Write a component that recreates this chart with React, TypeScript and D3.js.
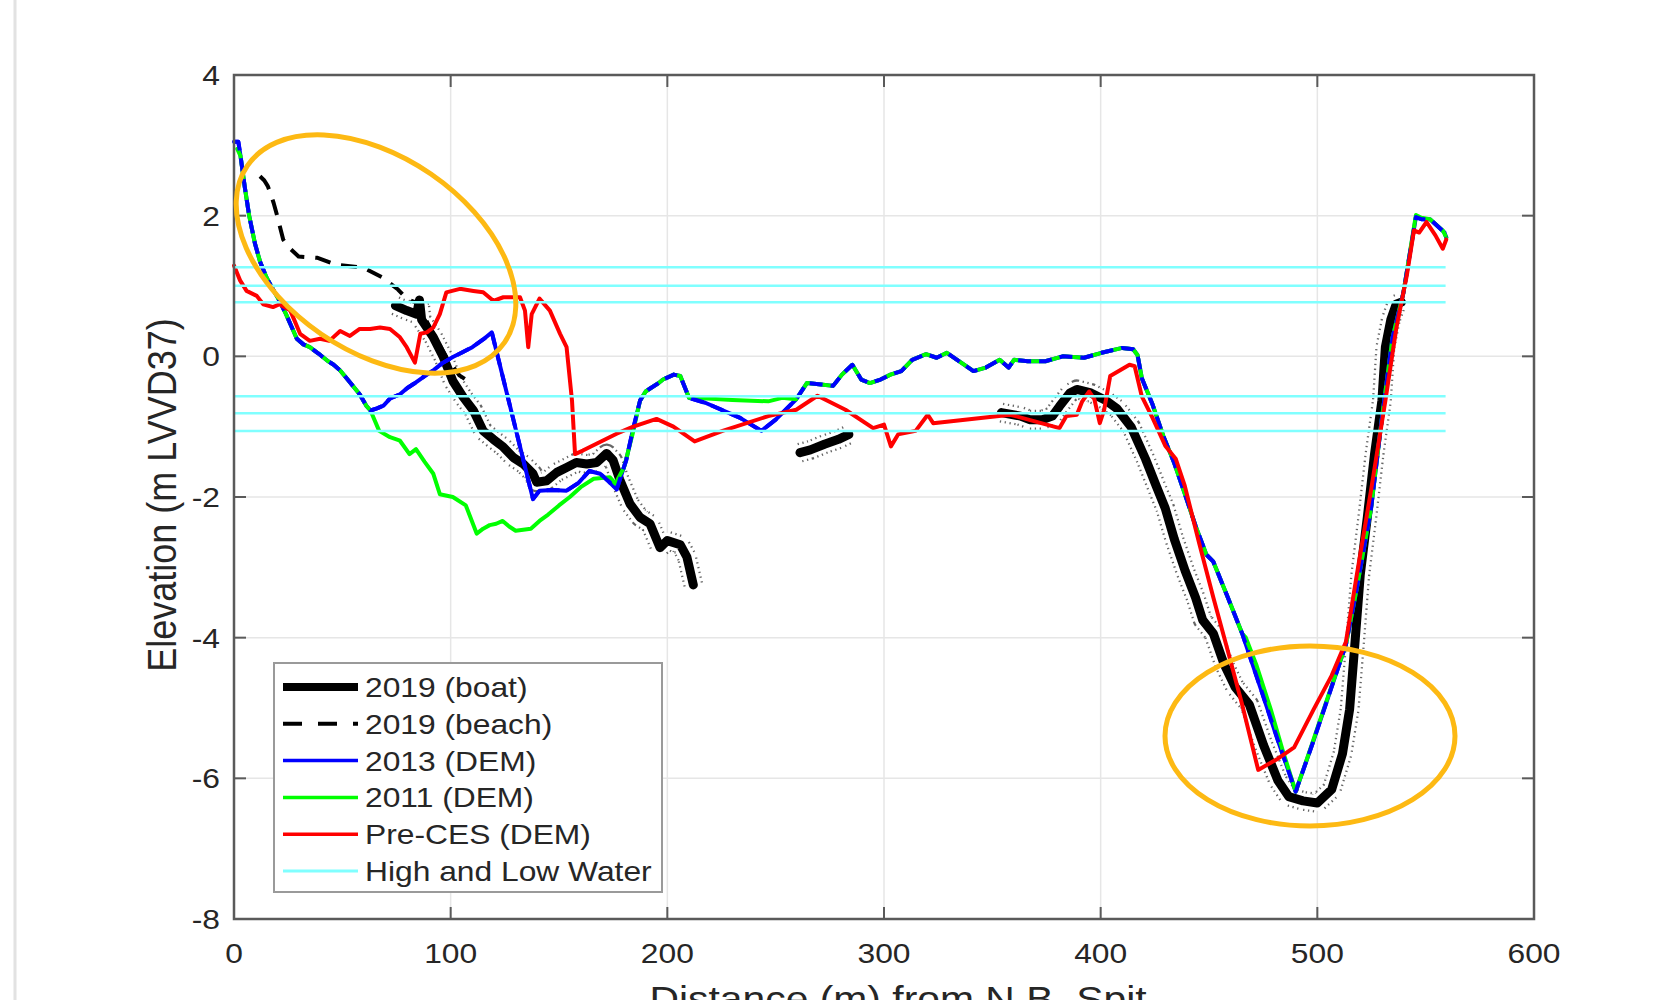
import React from "react";
import * as d3 from "d3";

type Pt = [number, number];

// elevation profiles (distance m, elevation m LVVD37)
const boatA: Pt[] = [
  [74.5, 0.72], [79.7, 0.65], [84.3, 0.6], [85.6, 0.8], [86.6, 0.52], [89, 0.41],
  [92, 0.27], [96.6, -0.01], [101, -0.35], [105.8, -0.58], [110.5, -0.77],
  [115, -1.06], [119.7, -1.18], [124.3, -1.29], [129, -1.44], [133.5, -1.53],
  [138, -1.67], [139.7, -1.79], [144.3, -1.77], [149, -1.65], [153.5, -1.58],
  [158, -1.51], [162.8, -1.53], [167.4, -1.51], [172, -1.38], [175, -1.48],
  [178, -1.75], [182.8, -2.1], [187.4, -2.29], [192, -2.38], [196.6, -2.72],
  [200, -2.62], [206, -2.68], [209, -2.85], [212, -3.25]
];
const boatB: Pt[] = [
  [261.2, -1.37], [266, -1.33], [272.5, -1.25], [279, -1.18], [283.8, -1.11]
];
const boatC: Pt[] = [
  [354.2, -0.8], [363, -0.85], [367.2, -0.9], [373, -0.9], [377.7, -0.85],
  [381, -0.71], [385.8, -0.52], [389, -0.47], [395.5, -0.52], [402, -0.62],
  [407.4, -0.74], [414, -1.0], [420.7, -1.46], [425.6, -1.84], [429.8, -2.16],
  [434, -2.6], [439, -3.05], [443.8, -3.43], [447.1, -3.75], [452, -3.94],
  [457, -4.38], [462, -4.7], [468.6, -4.95], [475.2, -5.53], [481.8, -6.03],
  [486.8, -6.26], [493.4, -6.32], [500, -6.35], [506.6, -6.16], [511.6, -5.65],
  [514.9, -5.02], [517.4, -4.06], [519.8, -3.11], [523.1, -2.28], [526.4, -1.39],
  [529.8, -0.63], [531.4, 0.13], [533.9, 0.52], [536.4, 0.74], [538.8, 0.77]
];
const beach: Pt[] = [
  [12, 2.56], [14, 2.5], [15.6, 2.42], [17, 2.3], [18.3, 2.18], [20, 1.99],
  [22.7, 1.66], [25.3, 1.55], [29.8, 1.42], [38.6, 1.4], [47.4, 1.3],
  [59.8, 1.26], [68.6, 1.12], [75.7, 0.95], [80.1, 0.81], [84.5, 0.76],
  [88, 0.55], [92, 0.32], [98, -0.01], [104, -0.27], [108, -0.35]
];
const dem2013: Pt[] = [
  [0, 3.05], [2, 3.05], [3, 2.85], [5, 2.4], [7, 2.0], [9.7, 1.6], [12, 1.35],
  [15, 1.12], [18, 0.95], [21, 0.79], [24, 0.6], [26, 0.46], [29, 0.25],
  [32, 0.17], [35, 0.13], [39, 0.04], [43, -0.06], [46, -0.12], [49, -0.2],
  [53.5, -0.37], [58, -0.54], [61, -0.7], [63, -0.77], [66, -0.74], [69, -0.7],
  [72, -0.6], [76.6, -0.54], [80, -0.45], [83, -0.39], [88, -0.28], [92, -0.2],
  [96, -0.1], [101, -0.01], [105, 0.05], [110, 0.13], [115, 0.24], [119, 0.34],
  [138, -2.03], [141, -1.91], [147, -1.9], [153.5, -1.91], [159, -1.8],
  [164, -1.63], [169, -1.67], [173, -1.78], [176.6, -1.89], [181, -1.48],
  [184, -1.06], [187.4, -0.63], [190, -0.5], [192.4, -0.45], [196, -0.38],
  [198, -0.33], [203, -0.26], [206, -0.28], [210, -0.59], [217.5, -0.66],
  [233.6, -0.875], [243.4, -1.06], [250, -0.9], [259.5, -0.61], [264.4, -0.38],
  [271, -0.4], [276.5, -0.42], [280.6, -0.26], [285.4, -0.12], [289.5, -0.33],
  [293.5, -0.38], [298.4, -0.33], [303, -0.26], [308, -0.21], [313, -0.05],
  [319.4, 0.03], [324.3, -0.02], [329, 0.05], [335.6, -0.09], [341.3, -0.21],
  [347, -0.16], [353.4, -0.05], [357.5, -0.16], [360, -0.05], [366.4, -0.07],
  [374.5, -0.07], [382.5, 0.0], [392.3, -0.02], [400.4, 0.05], [410, 0.12],
  [415, 0.1], [417, 0.02], [419, -0.31], [424, -0.69], [429, -1.14], [434, -1.52],
  [439, -1.97], [443.8, -2.41], [448.8, -2.82], [452, -2.92], [458.7, -3.43],
  [465.3, -3.94], [473.6, -4.7], [481.8, -5.46], [490, -6.19], [498.3, -5.46],
  [506.6, -4.7], [513.2, -4.1], [518.2, -3.3], [524.8, -2.16], [529.8, -0.88],
  [534.7, 0.26], [539.7, 0.9], [545.5, 1.98], [548, 1.95], [552, 1.95],
  [558.7, 1.76], [559.5, 1.69]
];
const dem2011: Pt[] = [
  [1.5, 2.95], [3, 2.85], [5, 2.4], [7, 2.0], [9.7, 1.6], [12, 1.35],
  [15, 1.12], [18, 0.95], [21, 0.79], [24, 0.6], [26, 0.46], [29, 0.25],
  [32, 0.17], [35, 0.13], [39, 0.04], [43, -0.06], [46, -0.12], [49, -0.2],
  [53.5, -0.37], [58, -0.54], [61, -0.7], [63, -0.77], [67, -1.06], [72, -1.15],
  [76.6, -1.2], [81, -1.39], [84, -1.32], [88, -1.5], [92, -1.67], [95, -1.96],
  [101, -2.0], [107, -2.12], [112, -2.52], [115, -2.45], [118, -2.4],
  [121, -2.38], [124, -2.34], [127, -2.42], [130, -2.48], [137, -2.45],
  [141, -2.34], [145, -2.25], [150, -2.12], [155, -2.0], [160, -1.86],
  [166, -1.74], [173.5, -1.72], [176, -1.81], [180, -1.58], [184, -1.1],
  [187.4, -0.63], [190, -0.5], [192.4, -0.45], [196, -0.38], [198, -0.33],
  [203, -0.26], [206, -0.28], [210, -0.59], [212.6, -0.59], [230, -0.62],
  [246.6, -0.64], [253, -0.59], [259.5, -0.61], [264.4, -0.38], [271, -0.4],
  [276.5, -0.42], [280.6, -0.26], [285.4, -0.12], [289.5, -0.33],
  [293.5, -0.38], [298.4, -0.33], [303, -0.26], [308, -0.21], [313, -0.05],
  [319.4, 0.03], [324.3, -0.02], [329, 0.05], [335.6, -0.09], [341.3, -0.21],
  [347, -0.16], [353.4, -0.05], [357.5, -0.16], [360, -0.05], [366.4, -0.07],
  [374.5, -0.07], [382.5, 0.0], [392.3, -0.02], [400.4, 0.05], [410, 0.12],
  [415, 0.1], [417, 0.02], [419, -0.31], [424, -0.69], [429, -1.14], [434, -1.52],
  [439, -1.97], [443.8, -2.41], [448.8, -2.82], [452, -2.92], [458.7, -3.43],
  [465.3, -3.94], [467, -4.0], [472, -4.4], [478.5, -5.02], [484, -5.6],
  [490, -6.19], [496.7, -5.59], [505, -4.83], [513.2, -4.1], [518.2, -3.3],
  [524.8, -2.16], [529.8, -0.88], [534.7, 0.26], [539.7, 0.9], [545.5, 2.01],
  [548, 1.97], [552, 1.95], [557.9, 1.79], [559.5, 1.69]
];
const preCES: Pt[] = [
  [0, 1.29], [2.8, 1.08], [5.8, 0.93], [10.5, 0.86], [13.5, 0.74], [18, 0.7],
  [21, 0.74], [26, 0.65], [30.5, 0.32], [35, 0.22], [39.7, 0.25], [44, 0.22],
  [49, 0.36], [53.5, 0.29], [58, 0.39], [62.8, 0.39], [67.4, 0.41], [72, 0.39],
  [76.6, 0.27], [79.7, 0.13], [83.5, -0.09], [86, 0.32], [89, 0.34], [92, 0.41],
  [95, 0.6], [98, 0.91], [104.3, 0.96], [110.5, 0.93], [115, 0.91],
  [119.7, 0.79], [124.3, 0.84], [132, 0.84], [134.3, 0.65], [135.8, 0.13],
  [137.4, 0.6], [141, 0.82], [145.8, 0.65], [150.5, 0.32], [153.5, 0.13],
  [156, -0.63], [157.4, -1.39], [161, -1.34], [176.6, -1.1], [184.3, -1.0],
  [195, -0.89], [202.8, -1.0], [212.6, -1.21], [225.5, -1.06], [246.6, -0.85],
  [259.5, -0.76], [269.3, -0.56], [282.2, -0.76], [295, -1.02], [300, -0.97],
  [303.2, -1.28], [306.5, -1.11], [314.6, -1.06], [320.2, -0.83],
  [322.7, -0.95], [358.3, -0.83], [381, -1.02], [384.2, -0.85], [389, -0.83],
  [391.5, -0.64], [394.7, -0.5], [397.1, -0.61], [399.6, -0.95], [401.6, -0.76],
  [404.4, -0.28], [413.3, -0.12], [415.7, -0.14], [419, -0.57], [424, -0.88],
  [429.8, -1.27], [434.7, -1.46], [438.8, -1.84], [445.5, -2.66], [452, -3.43],
  [458.7, -4.19], [465.3, -4.95], [472.7, -5.88], [481.8, -5.72],
  [489.3, -5.56], [498.3, -5.02], [506.6, -4.54], [513.2, -4.06],
  [518.2, -3.11], [524.8, -1.9], [531.4, -0.63], [536.4, 0.39], [541.3, 1.15],
  [544.6, 1.79], [547, 1.76], [550.4, 1.91], [554.5, 1.72], [557.9, 1.53],
  [559.5, 1.66]
];
// tidal levels (high and low water), drawn across 0..559 m
const waterLevels = [1.265, 1.005, 0.77, -0.566, -0.808, -1.062];
const waterExtent = [0, 559.2];

const xTicks = [0, 100, 200, 300, 400, 500, 600];
const yTicks = [-8, -6, -4, -2, 0, 2, 4];

const legendItems = [
  { label: "2019 (boat)", color: "#000", width: 8, dash: "" },
  { label: "2019 (beach)", color: "#000", width: 4, dash: "19 16" },
  { label: "2013 (DEM)", color: "#0000ff", width: 3.5, dash: "" },
  { label: "2011 (DEM)", color: "#00ff00", width: 3.5, dash: "" },
  { label: "Pre-CES (DEM)", color: "#ff0000", width: 3.5, dash: "" },
  { label: "High and Low Water", color: "#80ffff", width: 3, dash: "" }
];

const FONT = "'Liberation Sans', Arial, Helvetica, sans-serif";
const SX = 1.135; // the figure's text is a little wider than plain Arial

const Label = ({ x, y, size, anchor = "start", rotate = false, children }: any) => (
  <text
    transform={`translate(${x},${y}) scale(${SX},1)${rotate ? " rotate(-90)" : ""}`}
    fontSize={size}
    fontFamily={FONT}
    textAnchor={anchor}
    fill="#262626"
  >
    {children}
  </text>
);

export default function App() {
  const left = 234, right = 1534, top = 75, bottom = 919;
  const x = d3.scaleLinear().domain([0, 600]).range([left, right]);
  const y = d3.scaleLinear().domain([-8, 4]).range([bottom, top]);
  const line = d3.line<Pt>().x(d => x(d[0])).y(d => y(d[1]));

  const boats = [boatA, boatB, boatC];
  const lineProps = { fill: "none", strokeLinejoin: "round" as const, strokeLinecap: "round" as const };
  const lw = 4;

  return (
    <svg width={1660} height={1000} style={{ position: "absolute", left: 0, top: 0, background: "#fff" }}>
      <line x1={15} x2={15} y1={0} y2={1000} stroke="#e2e2e2" strokeWidth={3} />

      {/* grid */}
      <g stroke="#e6e6e6" strokeWidth={1.5}>
        {xTicks.slice(1, -1).map(t => (
          <line key={"gx" + t} x1={x(t)} x2={x(t)} y1={top} y2={bottom} />
        ))}
        {yTicks.slice(1, -1).map(t => (
          <line key={"gy" + t} x1={left} x2={right} y1={y(t)} y2={y(t)} />
        ))}
      </g>

      {/* 2019 boat with dotted uncertainty halo */}
      {boats.map((b, i) => (
        <g key={"boat" + i}>
          <path d={line(b) || ""} {...lineProps} stroke="#333" strokeOpacity={0.75} strokeWidth={20} strokeDasharray="1.3 3.6" strokeLinecap="butt" />
          <path d={line(b) || ""} {...lineProps} stroke="#fff" strokeWidth={15.5} />
          <path d={line(b) || ""} {...lineProps} stroke="#000" strokeWidth={9} />
        </g>
      ))}
      <path d={line(beach) || ""} {...lineProps} strokeLinecap="butt" stroke="#000" strokeWidth={4} strokeDasharray="16 11" />

      {/* DEMs: blue and green overlap, dashed blue on top gives the mixed look */}
      <path d={line(dem2013) || ""} {...lineProps} stroke="#0000ff" strokeWidth={lw} />
      <path d={line(dem2011) || ""} {...lineProps} stroke="#00ff00" strokeWidth={lw} />
      <path d={line(dem2013) || ""} {...lineProps} strokeLinecap="butt" stroke="#0000ff" strokeWidth={lw} strokeDasharray="13 8" />
      <path d={line(preCES) || ""} {...lineProps} stroke="#ff0000" strokeWidth={lw} />

      <g stroke="#80ffff" strokeWidth={2.5}>
        {waterLevels.map(w => (
          <line key={"w" + w} x1={x(waterExtent[0])} x2={x(waterExtent[1])} y1={y(w)} y2={y(w)} />
        ))}
      </g>

      {/* axes box and ticks */}
      <rect x={left} y={top} width={right - left} height={bottom - top} fill="none" stroke="#5a5a5a" strokeWidth={2.5} />
      <g stroke="#5a5a5a" strokeWidth={2}>
        {xTicks.slice(1, -1).map(t => (
          <g key={"tx" + t}>
            <line x1={x(t)} x2={x(t)} y1={bottom} y2={bottom - 12} />
            <line x1={x(t)} x2={x(t)} y1={top} y2={top + 12} />
          </g>
        ))}
        {yTicks.slice(1, -1).map(t => (
          <g key={"ty" + t}>
            <line x1={left} x2={left + 12} y1={y(t)} y2={y(t)} />
            <line x1={right} x2={right - 12} y1={y(t)} y2={y(t)} />
          </g>
        ))}
      </g>
      {xTicks.map(t => (
        <Label key={"lx" + t} x={x(t)} y={bottom + 44} size={28} anchor="middle">{t}</Label>
      ))}
      {yTicks.map(t => (
        <Label key={"ly" + t} x={left - 14} y={y(t) + 10} size={28} anchor="end">{t}</Label>
      ))}
      <Label x={176} y={495} size={36} anchor="middle" rotate>Elevation (m LVVD37)</Label>
      <Label x={898} y={1011} size={36} anchor="middle">Distance (m) from N.B. Spit</Label>

      {/* legend */}
      <rect x={274} y={663} width={388} height={229} fill="#fff" stroke="#9a9a9a" strokeWidth={2} />
      {legendItems.map((it, i) => {
        const cy = 687 + i * 36.8;
        return (
          <g key={it.label}>
            <line x1={283} x2={358} y1={cy} y2={cy} stroke={it.color} strokeWidth={it.width} strokeDasharray={it.dash || undefined} />
            <Label x={365} y={cy + 10} size={28}>{it.label}</Label>
          </g>
        );
      })}

      {/* highlight rings */}
      <ellipse cx={376} cy={254} rx={156} ry={97} transform="rotate(34.5 376 254)" fill="none" stroke="#fdb913" strokeWidth={5} />
      <ellipse cx={1310} cy={736} rx={145} ry={90} fill="none" stroke="#fdb913" strokeWidth={5} />
    </svg>
  );
}
